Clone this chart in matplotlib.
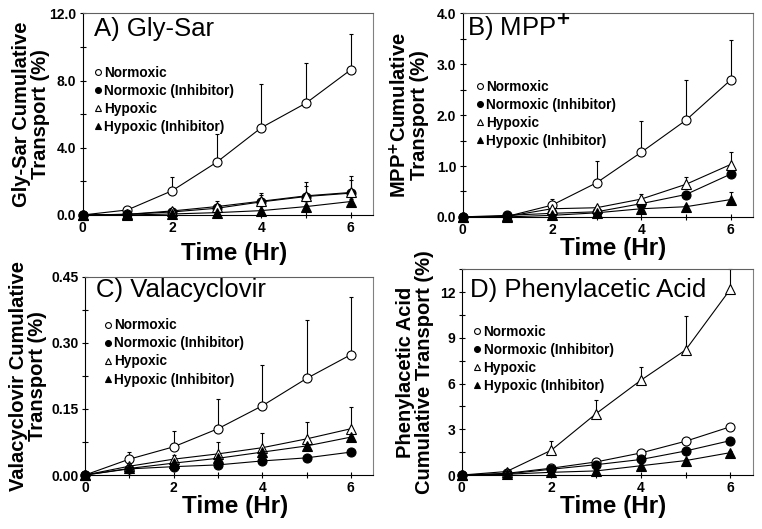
import matplotlib
matplotlib.use("Agg")
import matplotlib.pyplot as plt
import numpy as np
from matplotlib.ticker import MultipleLocator, FormatStrFormatter

plt.rcParams['font.family'] = ['Liberation Sans', 'DejaVu Sans']
plt.rcParams['font.weight'] = 'bold'

# time points (hr)
time = [0, 1, 2, 3, 4, 5, 6]

labels = ["Normoxic", "Normoxic (Inhibitor)", "Hypoxic", "Hypoxic (Inhibitor)"]

# A) Gly-Sar, mean and upper SD
glysar_norm = [0, 0.30, 1.44, 3.14, 5.20, 6.66, 8.64]
glysar_norm_err = [0, 0.10, 0.82, 1.66, 2.58, 2.40, 2.16]
glysar_norm_inh = [0, 0.04, 0.18, 0.40, 0.78, 1.10, 1.30]
glysar_norm_inh_err = [0, 0.02, 0.10, 0.25, 0.40, 0.60, 0.80]
glysar_hyp = [0, 0.04, 0.24, 0.50, 0.82, 1.14, 1.34]
glysar_hyp_err = [0, 0.02, 0.10, 0.32, 0.48, 0.80, 0.96]
glysar_hyp_inh = [0, 0.00, 0.06, 0.14, 0.26, 0.50, 0.80]
glysar_hyp_inh_err = [0, 0.00, 0.02, 0.05, 0.08, 0.12, 0.15]

# B) MPP+
mpp_norm = [0, 0.01, 0.23, 0.67, 1.27, 1.90, 2.69]
mpp_norm_err = [0, 0.01, 0.13, 0.43, 0.61, 0.79, 0.79]
mpp_norm_inh = [0, 0.03, 0.07, 0.10, 0.26, 0.44, 0.84]
mpp_norm_inh_err = [0, 0.01, 0.02, 0.03, 0.05, 0.06, 0.08]
mpp_hyp = [0, 0.01, 0.16, 0.18, 0.35, 0.64, 1.03]
mpp_hyp_err = [0, 0.01, 0.04, 0.04, 0.10, 0.15, 0.24]
mpp_hyp_inh = [0, 0.00, 0.03, 0.08, 0.16, 0.20, 0.34]
mpp_hyp_inh_err = [0, 0.00, 0.01, 0.02, 0.04, 0.03, 0.15]

# C) Valacyclovir
vala_norm = [0, 0.036, 0.064, 0.105, 0.157, 0.219, 0.273]
vala_norm_err = [0, 0.016, 0.037, 0.068, 0.093, 0.133, 0.132]
vala_norm_inh = [0, 0.014, 0.019, 0.023, 0.032, 0.039, 0.052]
vala_norm_inh_err = [0, 0.002, 0.003, 0.004, 0.004, 0.005, 0.005]
vala_hyp = [0, 0.020, 0.036, 0.048, 0.062, 0.082, 0.105]
vala_hyp_err = [0, 0.005, 0.010, 0.028, 0.033, 0.039, 0.049]
vala_hyp_inh = [0, 0.015, 0.027, 0.038, 0.052, 0.066, 0.086]
vala_hyp_inh_err = [0, 0.003, 0.004, 0.006, 0.007, 0.008, 0.009]

# D) Phenylacetic Acid
paa_norm = [0, 0.11, 0.45, 0.86, 1.45, 2.22, 3.17]
paa_norm_err = [0, 0.02, 0.05, 0.08, 0.10, 0.12, 0.15]
paa_norm_inh = [0, 0.07, 0.38, 0.68, 1.02, 1.58, 2.26]
paa_norm_inh_err = [0, 0.02, 0.04, 0.06, 0.08, 0.10, 0.12]
paa_hyp = [0, 0.23, 1.63, 4.03, 6.22, 8.21, 12.20]
paa_hyp_err = [0, 0.05, 0.63, 0.88, 0.84, 2.24, 1.30]
paa_hyp_inh = [0, 0.05, 0.18, 0.27, 0.61, 0.95, 1.47]
paa_hyp_inh_err = [0, 0.01, 0.03, 0.04, 0.06, 0.08, 0.10]

fig = plt.figure(figsize=(7.62, 5.29), dpi=100)

panels = [
    # rect, title, title pos, ylabel, ylim, major, minor, fmt, legend anchor,
    # ylabel x, xlabel y, data
    ([0.1085, 0.5936, 0.381, 0.381], "A) Gly-Sar", (0.04, 0.89),
     "Gly-Sar Cumulative\nTransport (%)", 12.0, 4.0, 2.0, '%.1f', (0.04, 0.74),
     -0.113, -0.135,
     [(glysar_norm, glysar_norm_err), (glysar_norm_inh, glysar_norm_inh_err),
      (glysar_hyp, glysar_hyp_err), (glysar_hyp_inh, glysar_hyp_inh_err)]),
    ([0.607, 0.590, 0.381, 0.3845], "B) MPP$^{+}$", (0.014, 0.89),
     "MPP$^{+}$Cumulative\nTransport (%)", 4.0, 1.0, 0.5, '%.1f', (0.045, 0.675),
     -0.115, -0.1,
     [(mpp_norm, mpp_norm_err), (mpp_norm_inh, mpp_norm_inh_err),
      (mpp_hyp, mpp_hyp_err), (mpp_hyp_inh, mpp_hyp_inh_err)]),
    ([0.1115, 0.102, 0.378, 0.375], "C) Valacyclovir", (0.04, 0.90),
     "Valacyclovir Cumulative\nTransport (%)", 0.45, 0.15, 0.075, '%.2f', (0.065, 0.79),
     -0.133, -0.1,
     [(vala_norm, vala_norm_err), (vala_norm_inh, vala_norm_inh_err),
      (vala_hyp, vala_hyp_err), (vala_hyp_inh, vala_hyp_inh_err)]),
    ([0.606, 0.102, 0.382, 0.389], "D) Phenylacetic Acid", (0.027, 0.865),
     "Phenylacetic Acid\nCumulative Transport (%)", 13.5, 3.0, 1.5, '%d', (0.04, 0.73),
     -0.095, -0.095,
     [(paa_norm, paa_norm_err), (paa_norm_inh, paa_norm_inh_err),
      (paa_hyp, paa_hyp_err), (paa_hyp_inh, paa_hyp_inh_err)]),
]

styles = [('o', 'white'), ('o', 'black'), ('^', 'white'), ('^', 'black')]

for rect, title, tpos, ylab, ymax, major, minor, fmt, lpos, ylx, xly, series in panels:
    ax = fig.add_axes(rect)
    handles = []
    for (vals, err), (mk, fc), lab in zip(series, styles, labels):
        vals = np.array(vals)
        err = np.array(err)
        h = ax.errorbar(time, vals, yerr=[np.zeros_like(err), err], fmt='-',
                        marker=mk, mfc=fc, mec='black', ms=6.5, mew=0.8,
                        color='black', lw=0.8, ecolor='black', elinewidth=0.8,
                        capsize=1.2, label=lab, clip_on=False)
        handles.append(h)
    ax.set_xlim(0, 6.5)
    ax.set_ylim(0, ymax)
    ax.xaxis.set_major_locator(MultipleLocator(2))
    ax.xaxis.set_minor_locator(MultipleLocator(1))
    ax.yaxis.set_major_locator(MultipleLocator(major))
    ax.yaxis.set_minor_locator(MultipleLocator(minor))
    ax.yaxis.set_major_formatter(FormatStrFormatter(fmt))
    ax.tick_params(which='both', direction='inout', length=5, width=0.8,
                   labelsize=10, pad=2)
    ax.spines['left'].set_color('black')
    ax.spines['bottom'].set_color('black')
    ax.spines['top'].set_color('#606060')
    ax.spines['right'].set_color('#808080')
    ax.set_xlabel("Time (Hr)", fontsize=17.5, fontweight='bold')
    ax.xaxis.set_label_coords(0.52, xly)
    ax.set_ylabel(ylab, fontsize=14.5, fontweight='bold', linespacing=1.0)
    ax.yaxis.set_label_coords(ylx, 0.5)
    ax.text(tpos[0], tpos[1], title, transform=ax.transAxes, fontsize=18.5,
            fontweight='normal', va='baseline', ha='left')
    lines = [h[0] for h in handles]
    leg = ax.legend(lines, labels, loc='upper left', bbox_to_anchor=lpos,
                    frameon=False, handlelength=0.6, handletextpad=0.15,
                    labelspacing=0.3, borderaxespad=0, borderpad=0,
                    markerscale=0.65, prop={'size': 9.8, 'weight': 'bold'})
    for lh in leg.get_lines():
        lh.set_linestyle('None')

plt.savefig("out.png", dpi=100)
